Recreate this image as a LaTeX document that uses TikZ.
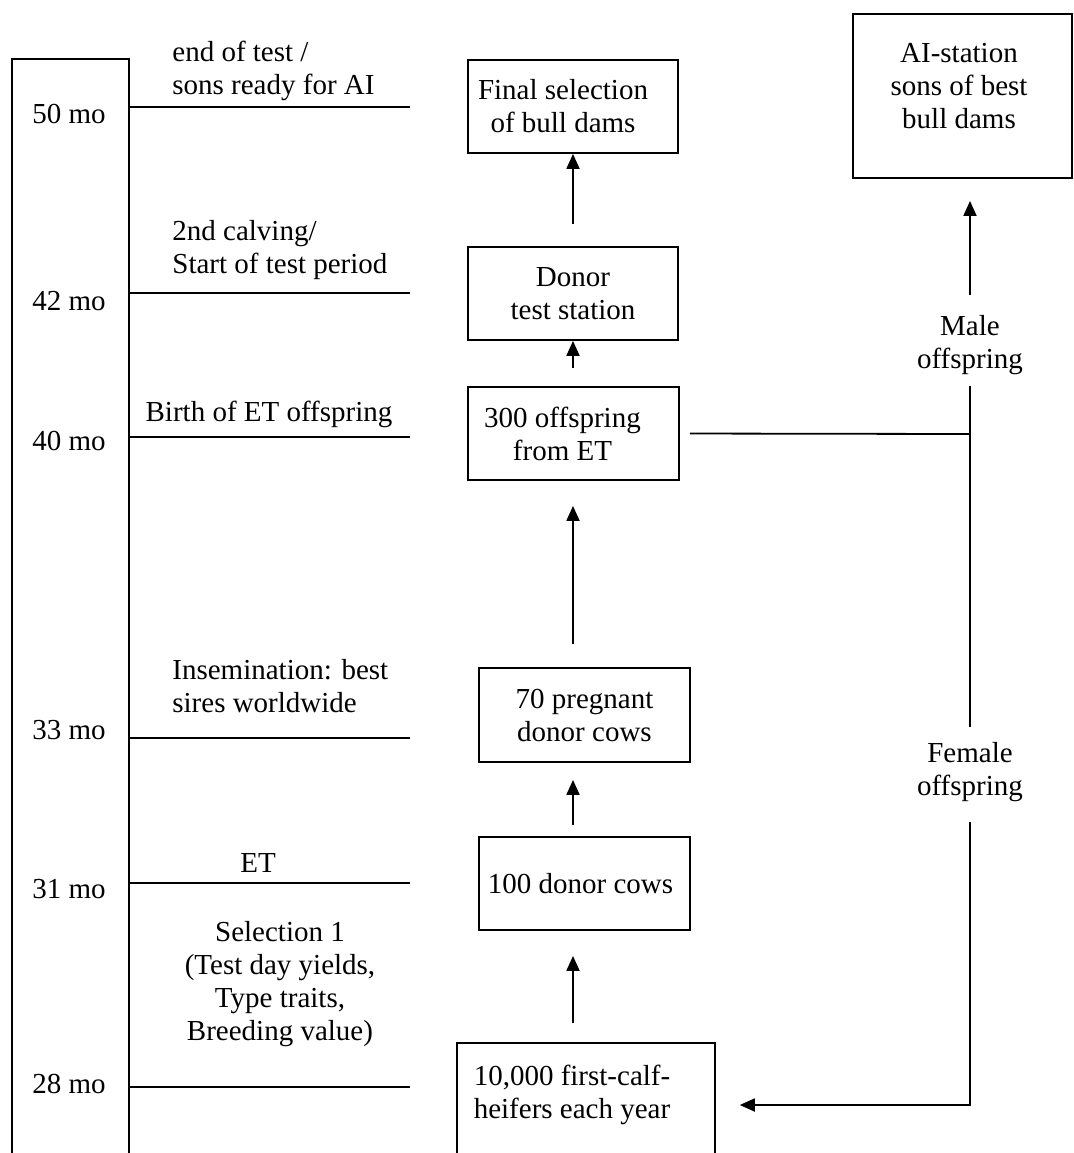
\documentclass[tikz,border=0pt]{standalone}
\usepackage{fontspec}
\setmainfont{Liberation Serif}
\usetikzlibrary{arrows.meta}
\begin{document}
\begin{tikzpicture}[x=0.5pt,y=-0.5pt]
\tikzset{
  txt/.style={font=\fontsize{14.5}{16.5}\selectfont, inner sep=0pt, align=center},
  lefttxt/.style={txt, align=left, anchor=west},
  box/.style={draw, line width=0.9pt, inner sep=0pt, align=center,
              font=\fontsize{14.5}{16.5}\selectfont,
              minimum width=105pt, minimum height=46.5pt},
  rule/.style={line width=0.9pt},
  arr/.style={line width=0.9pt, -{Triangle[length=7.5pt,width=6.5pt]}},
}
\useasboundingbox (0,0) rectangle (1074,1153);
\clip (0,0) rectangle (1074,1153);

% time axis frame
\draw[rule] (12,1170) -- (12,59) -- (129,59) -- (129,1170);

% month labels
\node[txt] (m50) at (69,114) {50 mo};
\node[txt] (m42) at (69,301) {42 mo};
\node[txt] (m40) at (69,441) {40 mo};
\node[txt] (m33) at (69,730) {33 mo};
\node[txt] (m31) at (69,889) {31 mo};
\node[txt] (m28) at (69,1084) {28 mo};

% time ticks
\foreach \n/\y in {50/107, 42/293, 40/437, 33/738, 31/883, 28/1087} {
  \coordinate (ta\n) at (129,\y);
  \coordinate (tb\n) at (410,\y);
  \draw[rule] (ta\n) -- (tb\n);
}

% events along the axis
\node[lefttxt] (ev50) at (172,71) {end of test /\\sons ready for AI};
\node[lefttxt] (ev42) at (172,250) {2nd calving/\\Start of test period};
\node[txt] (ev40) at (269,414) {Birth of ET offspring};
\node[lefttxt] (ev33) at (172,686.5) {Insemination: best\\sires worldwide};
\node[txt] (ev31) at (258,863) {ET};
\node[txt] (ev28) at (280,984.5) {Selection 1\\(Test day yields,\\Type traits,\\Breeding value)};

% stages
\node[box] (final) at (573,106.5) {Final selection\hspace*{10pt}\\of bull dams\hspace*{10pt}};
\node[box] (donor) at (573,293.5) {Donor\\test station};
\node[box, minimum width=105.5pt] (off300) at (573.5,433.5) {300 offspring\hspace*{11pt}\\from ET\hspace*{11pt}};
\node[box, minimum width=105.5pt, minimum height=47pt] (preg70) at (584.5,715) {70 pregnant\\donor cows};
\node[box, minimum width=105.5pt] (donor100) at (584.5,883.5) {100 donor cows\hspace*{4pt}};
\node[box, minimum width=129pt, minimum height=150pt, anchor=north west] (heifers) at (456,1042) {};
\node[txt] (heiftext) at (572,1095) {10,000 first-calf-\\heifers each year};
\node[box, minimum width=109.5pt, minimum height=82pt] (aist) at (962.5,96) {};
\node[txt] (aitext) at (959,86) {AI-station\\sons of best\\bull dams};

% offspring labels
\node[txt] (male) at (970,345) {Male\\offspring};
\node[txt] (female) at (970,772) {Female\\offspring};

% upward flow, all on one vertical
\draw[arr, shorten <=9.5pt, shorten >=12.5pt] (heifers.north -| final.south) -- (donor100.south -| final.south);
\draw[arr, shorten <=5.5pt, shorten >=8.5pt] (donor100.north -| final.south) -- (preg70.south -| final.south);
\draw[arr, shorten <=11.5pt, shorten >=12.5pt] (preg70.north -| final.south) -- (off300.south -| final.south);
\draw[arr, shorten <=9pt] (off300.north -| final.south) -- (donor.south -| final.south);
\draw[arr, shorten <=11pt] (donor.north) -- (final.south);

% offspring split
\coordinate (jn) at (970,434);
\coordinate (fb) at (970,1105);
\draw[rule, shorten <=5pt] (off300.east) -- (jn);
\draw[rule, shorten <=5.5pt, shorten >=7.5pt] (male.south) -- (female.north);
\draw[arr, shorten <=10pt, shorten >=11pt] (male.north) -- (male.north |- aist.south);
\draw[arr, shorten <=10pt, shorten >=12pt] (female.south) -- (fb) -- (fb -| heifers.east);
\end{tikzpicture}
\end{document}
